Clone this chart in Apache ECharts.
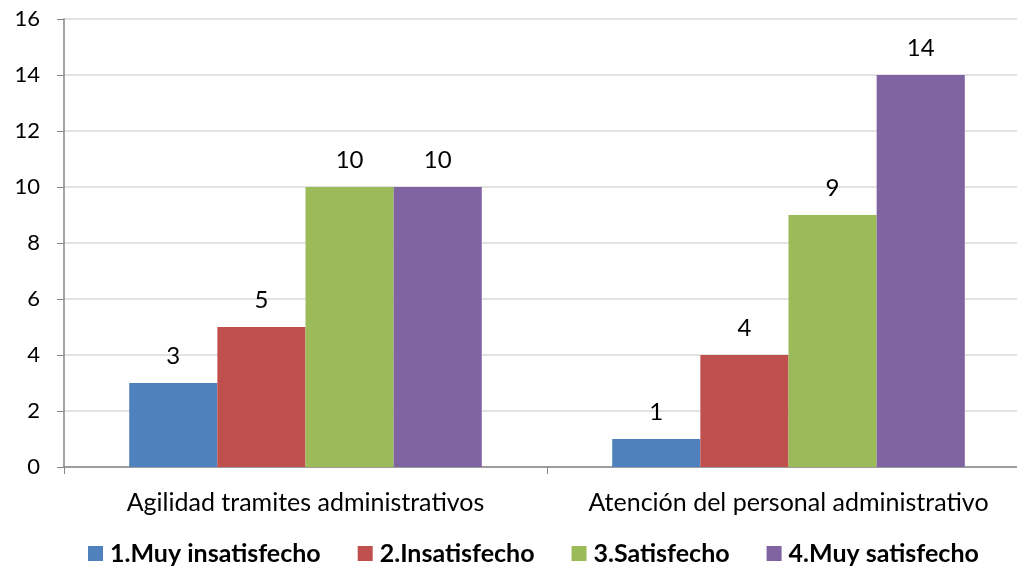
<!DOCTYPE html>
<html><head><meta charset="utf-8">
<script src="https://cdn.jsdelivr.net/npm/echarts@6/dist/echarts.min.js"></script>
<style>html,body{margin:0;padding:0;background:#fff;overflow:hidden;width:1017px;height:575px}#c{width:1030px;height:575px}</style>
</head><body><div id="c"></div>
<script>
var categories = ['Agilidad tramites administrativos', 'Atención del personal administrativo'];
var seriesNames = ['1.Muy insatisfecho', '2.Insatisfecho', '3.Satisfecho', '4.Muy satisfecho'];
var muyInsatisfecho = [3, 1];
var insatisfecho = [5, 4];
var satisfecho = [10, 9];
var muySatisfecho = [10, 14];
var colors = ['#4F81BD', '#C0504D', '#9BBB59', '#8064A2'];
var allValues = [muyInsatisfecho, insatisfecho, satisfecho, muySatisfecho];
var font = 'Lato, "Open Sans", sans-serif';
var chart = echarts.init(document.getElementById('c'));
chart.setOption({
  animation: false,
  grid: { left: 64, top: 19, right: 0, bottom: 108, containLabel: false },
  legend: {
    top: 541, left: 88, padding: 0, itemWidth: 15, itemHeight: 15, itemGap: 37,
    icon: 'rect',
    textStyle: { fontFamily: font, fontSize: 25, fontWeight: 'bold', color: '#000', padding: [0, 0, 0, 2] },
    data: seriesNames
  },
  xAxis: {
    type: 'category', data: categories,
    axisLine: { lineStyle: { color: '#868686', width: 1.5 } },
    axisTick: { show: true, length: 7, lineStyle: { color: '#868686' } },
    axisLabel: { fontFamily: font, fontSize: 25, color: '#000', margin: 23, interval: 0, hideOverlap: false }
  },
  yAxis: {
    type: 'value', min: 0, max: 16, interval: 2,
    axisLine: { show: true, lineStyle: { color: '#868686', width: 1.5 } },
    axisTick: { show: true, length: 7, lineStyle: { color: '#868686' } },
    splitLine: { lineStyle: { color: '#D9D9D9', width: 1.5 } },
    axisLabel: { fontFamily: font, fontSize: 22, color: '#000', margin: 24 }
  },
  series: seriesNames.map(function (n, i) {
    return {
      name: n, type: 'bar', data: allValues[i],
      barGap: '0%', barCategoryGap: '27%',
      itemStyle: { color: colors[i] },
      label: { show: true, position: 'top', distance: 15, fontFamily: font, fontSize: 24, color: '#000' }
    };
  })
});
</script></body></html>
